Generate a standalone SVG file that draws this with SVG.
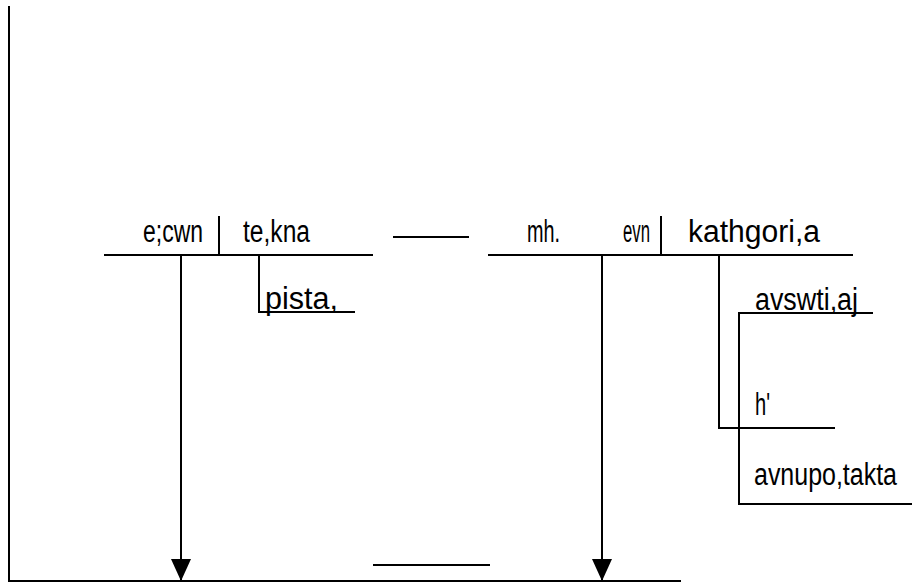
<svg xmlns="http://www.w3.org/2000/svg" width="915" height="583" viewBox="0 0 915 583">
<defs>
<style>
.ln{stroke:#000;stroke-width:2;fill:none}
.t{font-family:"Liberation Sans",Arial,sans-serif;font-size:31px;fill:#000}
</style>
<marker id="arr" markerUnits="userSpaceOnUse" markerWidth="24" markerHeight="20" refX="22" refY="10" orient="auto">
<path d="M0,0 L22,10 L0,20 Z" fill="#000"/>
</marker>
</defs>
<rect width="915" height="583" fill="#fff"/>
<g id="connectors">
<path class="ln" d="M9,6 V581 H681"/>
<path class="ln" d="M181,255 V581" marker-end="url(#arr)"/>
<path class="ln" d="M602,255 V581" marker-end="url(#arr)"/>
<path class="ln" d="M393,237 H469"/>
<path class="ln" d="M373,565 H490"/>
</g>
<g id="node-subject">
<path class="ln" d="M104,255 H373 M219,216 V255"/>
<text class="t" x="143" y="242" textLength="60" lengthAdjust="spacingAndGlyphs">e;cwn</text>
<text class="t" x="243" y="242" textLength="67" lengthAdjust="spacingAndGlyphs">te,kna</text>
</g>
<g id="node-pista">
<path class="ln" d="M259,255 V312 H355"/>
<text class="t" x="265" y="309" textLength="73" lengthAdjust="spacingAndGlyphs">pista,</text>
</g>
<g id="node-predicate">
<path class="ln" d="M488,255 H853 M661,216 V255"/>
<text class="t" x="527" y="242" textLength="33" lengthAdjust="spacingAndGlyphs">mh.</text>
<text class="t" x="623" y="242" textLength="27" lengthAdjust="spacingAndGlyphs">evn</text>
<text class="t" x="688" y="242" textLength="132" lengthAdjust="spacingAndGlyphs">kathgori,a</text>
</g>
<g id="node-h">
<path class="ln" d="M719,255 V428 H835"/>
<text class="t" x="755" y="415" textLength="15" lengthAdjust="spacingAndGlyphs">h'</text>
</g>
<g id="node-aswtiaj">
<path class="ln" d="M873,313 H739 V504 H912"/>
<text class="t" x="755" y="310" textLength="103" lengthAdjust="spacingAndGlyphs">avswti,aj</text>
<text class="t" x="754" y="485" textLength="143" lengthAdjust="spacingAndGlyphs">avnupo,takta</text>
</g>
</svg>
